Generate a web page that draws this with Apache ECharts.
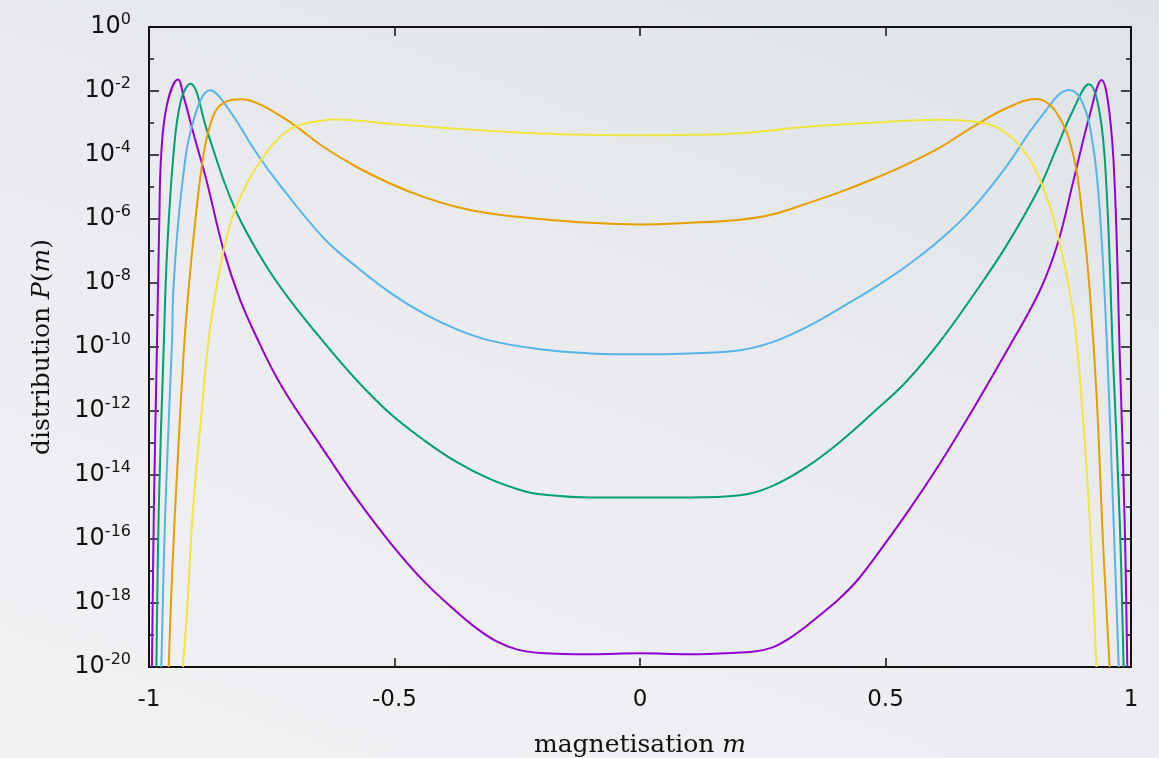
<!DOCTYPE html>
<html>
<head>
<meta charset="utf-8">
<title>P(m)</title>
<script src="https://cdn.jsdelivr.net/npm/echarts@6/dist/echarts.min.js"></script>
<style>
  html, body { margin: 0; padding: 0; }
  body { background: linear-gradient(200deg, #dfe2e6 0%, #e9ebee 45%, #f1f2f4 100%); }
  #chart { width: 1159px; height: 758px; }
</style>
</head>
<body>
<div id="chart"></div>
<script>
  // magnetisation m and log10 P(m), one pair of arrays per curve
  const purpleM = [-0.994, -0.990, -0.984, -0.979, -0.975, -0.963, -0.941, -0.929, -0.909, -0.882, -0.848, -0.814, -0.773, -0.742, -0.712, -0.644, -0.577, -0.509, -0.441, -0.373, -0.332, -0.292, -0.251, -0.2035, -0.1, 0, 0.1, 0.2035, 0.24, 0.2713, 0.305, 0.339, 0.373, 0.407, 0.441, 0.475, 0.543, 0.6105, 0.678, 0.746, 0.814, 0.851, 0.882, 0.916, 0.94, 0.956, 0.967, 0.977, 0.987, 0.9925];
  const purpleLogP = [-20, -15, -10.1, -6.04, -3.96, -2.4, -1.64, -2.2, -3.35, -4.85, -6.98, -8.54, -9.95, -10.9, -11.67, -13.23, -14.74, -16.11, -17.31, -18.28, -18.8, -19.2, -19.45, -19.56, -19.6, -19.57, -19.6, -19.55, -19.5, -19.38, -19.1, -18.72, -18.3, -17.85, -17.32, -16.65, -15.2, -13.65, -11.95, -10.15, -8.25, -6.75, -4.85, -2.75, -1.66, -2.67, -5.0, -10.2, -15.4, -20];

  const greenM = [-0.985, -0.980, -0.970, -0.9634, -0.950, -0.935, -0.916, -0.882, -0.848, -0.814, -0.760, -0.712, -0.644, -0.577, -0.509, -0.441, -0.373, -0.305, -0.2375, -0.2035, -0.1, 0, 0.1, 0.2035, 0.2713, 0.339, 0.407, 0.475, 0.543, 0.6105, 0.678, 0.746, 0.814, 0.848, 0.882, 0.9144, 0.936, 0.95, 0.963, 0.977, 0.985];
  const greenLogP = [-20, -15, -10, -7.08, -3.96, -2.3, -1.77, -3.23, -4.79, -6.04, -7.5, -8.55, -9.85, -11.04, -12.08, -12.9, -13.6, -14.13, -14.5, -14.6, -14.7, -14.7, -14.7, -14.63, -14.33, -13.75, -12.97, -12.05, -11.07, -9.84, -8.4, -6.84, -5.0, -3.8, -2.6, -1.79, -2.67, -5.0, -10.2, -15.4, -20];

  const blueM = [-0.975, -0.9666, -0.953, -0.950, -0.933, -0.909, -0.875, -0.841, -0.780, -0.733, -0.644, -0.577, -0.509, -0.441, -0.373, -0.305, -0.2035, -0.1, 0, 0.1, 0.2035, 0.2713, 0.339, 0.407, 0.475, 0.543, 0.6105, 0.678, 0.746, 0.814, 0.875, 0.9023, 0.9227, 0.936, 0.95, 0.963, 0.975];
  const blueLogP = [-20, -15, -9.8, -8.1, -5.0, -2.9, -1.98, -2.5, -3.96, -4.95, -6.6, -7.5, -8.3, -8.95, -9.45, -9.8, -10.07, -10.2, -10.23, -10.2, -10.1, -9.84, -9.38, -8.79, -8.17, -7.47, -6.66, -5.66, -4.36, -2.86, -1.97, -2.4, -3.71, -5.66, -9.58, -14.8, -20];

  const orangeM = [-0.960, -0.953, -0.943, -0.929, -0.919, -0.9056, -0.8887, -0.872, -0.851, -0.811, -0.780, -0.746, -0.712, -0.692, -0.644, -0.577, -0.509, -0.441, -0.373, -0.305, -0.2035, -0.1, 0, 0.1, 0.2035, 0.2713, 0.339, 0.407, 0.475, 0.543, 0.6105, 0.678, 0.746, 0.807, 0.848, 0.882, 0.902, 0.916, 0.93, 0.943, 0.9564];
  const orangeLogP = [-20, -17.1, -13.96, -10.1, -8.13, -6.04, -3.96, -2.9, -2.4, -2.26, -2.38, -2.65, -2.98, -3.2, -3.75, -4.375, -4.89, -5.31, -5.625, -5.83, -6.0, -6.12, -6.17, -6.12, -6.02, -5.85, -5.52, -5.16, -4.75, -4.29, -3.77, -3.12, -2.54, -2.25, -2.67, -3.97, -6.06, -8.27, -11.53, -16.1, -20];

  const yellowM = [-0.931, -0.922, -0.910, -0.892, -0.879, -0.868, -0.851, -0.828, -0.794, -0.746, -0.712, -0.692, -0.650, -0.624, -0.509, -0.373, -0.2035, -0.1, 0, 0.1, 0.2035, 0.339, 0.475, 0.6105, 0.678, 0.733, 0.780, 0.814, 0.848, 0.882, 0.902, 0.916, 0.9295];
  const yellowLogP = [-20, -18.1, -15, -11.9, -9.8, -8.64, -7.2, -5.85, -4.7, -3.64, -3.18, -3.05, -2.93, -2.89, -3.02, -3.18, -3.33, -3.37, -3.38, -3.37, -3.32, -3.12, -2.99, -2.9, -2.95, -3.19, -3.84, -4.75, -6.32, -8.92, -12.18, -15.44, -20];

  const curves = [
    { m: purpleM, logP: purpleLogP, color: '#9400d3' },
    { m: greenM, logP: greenLogP, color: '#009e73' },
    { m: blueM, logP: blueLogP, color: '#56b4e9' },
    { m: orangeM, logP: orangeLogP, color: '#e69f00' },
    { m: yellowM, logP: yellowLogP, color: '#f0e442' }
  ];

  const tickFont = 'DejaVu Sans';
  const titleFont = 'DejaVu Serif';

  const chart = echarts.init(document.getElementById('chart'));

  const frameX = (pos, withLabels) => ({
    type: 'value',
    position: pos,
    min: -1,
    max: 1,
    interval: 0.5,
    axisLine: { show: true, onZero: false, lineStyle: { color: '#111', width: 2 } },
    axisTick: { show: true, inside: true, length: 9, lineStyle: { color: '#111', width: 1.5 } },
    axisLabel: {
      show: withLabels,
      margin: 22,
      color: '#111',
      fontSize: 23,
      fontFamily: tickFont
    },
    splitLine: { show: false }
  });

  const frameY = (pos, withLabels) => ({
    type: 'value',
    position: pos,
    min: -20,
    max: 0,
    interval: 2,
    axisLine: { show: true, onZero: false, lineStyle: { color: '#111', width: 2 } },
    axisTick: { show: true, inside: true, length: 10, lineStyle: { color: '#111', width: 1.5 } },
    minorTick: { show: true, splitNumber: 2, length: 5, lineStyle: { color: '#111', width: 1.5 } },
    axisLabel: {
      show: withLabels,
      margin: 18,
      color: '#111',
      formatter: (v) => '{b|10}{s|' + v + '}',
      rich: {
        b: { fontSize: 24, fontFamily: tickFont, color: '#111' },
        s: { fontSize: 16, fontFamily: tickFont, color: '#111', padding: [0, 0, 14, 0] }
      }
    },
    splitLine: { show: false },
    minorSplitLine: { show: false }
  });

  const titleRich = {
    t: { fontSize: 25, fontFamily: titleFont, color: '#111' },
    i: { fontSize: 25, fontFamily: titleFont, fontStyle: 'italic', color: '#111' }
  };

  const xAxisBottom = frameX('bottom', true);
  xAxisBottom.name = '{t|magnetisation }{i|m}';
  xAxisBottom.nameLocation = 'middle';
  xAxisBottom.nameGap = 66;
  xAxisBottom.nameTextStyle = { rich: titleRich };

  const yAxisLeft = frameY('left', true);
  yAxisLeft.name = '{t|distribution }{i|P}{t|(}{i|m}{t|)}';
  yAxisLeft.nameLocation = 'middle';
  yAxisLeft.nameGap = 94;
  yAxisLeft.nameTextStyle = { rich: titleRich };

  const option = {
    backgroundColor: 'transparent',
    animation: false,
    grid: { left: 149, right: 28, top: 27, bottom: 91, containLabel: false, outerBoundsMode: 'none' },
    xAxis: [xAxisBottom, frameX('top', false)],
    yAxis: [yAxisLeft, frameY('right', false)],
    series: curves.map((c) => ({
      type: 'line',
      xAxisIndex: 0,
      yAxisIndex: 0,
      data: c.m.map((m, i) => [m, c.logP[i]]),
      showSymbol: false,
      smooth: 0.4,
      clip: true,
      lineStyle: { color: c.color, width: 2 },
      itemStyle: { color: c.color }
    }))
  };

  chart.setOption(option);
</script>
</body>
</html>
